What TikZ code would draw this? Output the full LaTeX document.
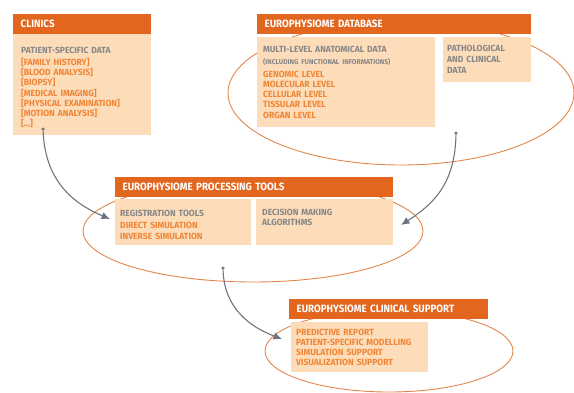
\documentclass[tikz,border=0pt]{standalone}
\usepackage{fontspec}
\setmainfont{Fira Sans}
\newfontfamily\headfont{Fira Sans}[FakeStretch=0.92]
\newfontfamily\itemfont{Fira Sans}[FakeStretch=0.96]
\usetikzlibrary{arrows.meta}
\usetikzlibrary{positioning}

\definecolor{headorange}{HTML}{E2661E}
\definecolor{panelpeach}{HTML}{FDDDB9}
\definecolor{itemorange}{HTML}{F08536}
\definecolor{itemgrey}{HTML}{878787}
\definecolor{ringorange}{HTML}{E3864C}
\definecolor{flowgrey}{HTML}{6F7580}

\newcommand{\gry}{\color{itemgrey}}
\newcommand{\smallgry}{\color{itemgrey}\fontsize{7}{8}\selectfont}

\tikzset{
  header/.style={anchor=north west, fill=headorange, text=white,
    font=\headfont\bfseries\fontsize{10.6}{12}\selectfont,
    minimum height=20, inner xsep=7.5, inner ysep=0, text width=#1, align=left},
  panel/.style={anchor=north west, fill=panelpeach, inner sep=0},
  items/.style={anchor=base west, inner sep=0, align=left, text width=#1,
    font=\itemfont\bfseries\fontsize{8.9}{10.3}\selectfont, text=itemorange},
  ring/.style={draw=ringorange, line width=0.9},
  flow/.style={draw=flowgrey, line width=1.1, -{Latex[length=8.5,width=7.5]}},
  tail/.style={circle, fill=flowgrey, inner sep=0, minimum size=3.5}
}

\begin{document}
\begin{tikzpicture}[x=1pt,y=1pt]
  \useasboundingbox (0,0) rectangle (574,-392);
  % rings behind the panels
  \draw[ring] (401,-93) ellipse (173 and 72);
  \draw[ring] (253,-231) ellipse (170 and 51);
  \draw[ring] (389,-351) ellipse (124 and 41);

  % clinics
  \node[header=123] (clinics) at (13,-14) {CLINICS};
  \node[panel, minimum width=138, minimum height=101] (clinicsbox) at (13,-34) {};
  \node[items=126] (patientdata) at ([xshift=8,yshift=-19]clinicsbox.north west)
    {{\gry PATIENT-SPECIFIC DATA}\\[1.8pt]
     {[FAMILY HISTORY]}\\ {[BLOOD ANALYSIS]}\\ {[BIOPSY]}\\
     {[MEDICAL IMAGING]}\\ {[PHYSICAL EXAMINATION]}\\
     {[MOTION ANALYSIS]}\\ {[...]}};

  % database
  \node[header=259] (database) at (257,-14) {EUROPHYSIOME DATABASE};
  \node[panel, minimum width=178, minimum height=90] (levelsbox) at (257,-37) {};
  \node[panel, minimum width=88, minimum height=45] (clinicalbox) at (443,-37) {};
  \node[items=170] (levels) at ([xshift=6,yshift=-15]levelsbox.north west)
    {{\gry MULTI-LEVEL ANATOMICAL DATA}\\[2.2pt]
     {\smallgry (INCLUDING FUNCTIONAL INFORMATIONS)}\\[2.2pt]
     GENOMIC LEVEL\\ MOLECULAR LEVEL\\ CELLULAR LEVEL\\
     TISSULAR LEVEL\\ ORGAN LEVEL};
  \node[items=82] (clinical) at ([xshift=4,yshift=-14]clinicalbox.north west)
    {{\gry PATHOLOGICAL}\\[0.7pt] {\gry AND CLINICAL}\\[0.7pt] {\gry DATA}};

  % processing tools
  \node[header=263] (tools) at (115,-177) {EUROPHYSIOME PROCESSING TOOLS};
  \node[panel, minimum width=136, minimum height=46] (registrationbox) at (115,-199) {};
  \node[panel, minimum width=137, minimum height=46] (decisionbox) at (256,-199) {};
  \node[items=128] (registration) at ([xshift=5,yshift=-17]registrationbox.north west)
    {{\gry REGISTRATION TOOLS}\\[2.5pt] DIRECT SIMULATION\\ INVERSE SIMULATION};
  \node[items=128] (decision) at ([xshift=6,yshift=-16]decisionbox.north west)
    {{\gry DECISION MAKING}\\ {\gry ALGORITHMS}};

  % clinical support
  \node[header=184] (support) at (289,-299) {EUROPHYSIOME CLINICAL SUPPORT};
  \node[panel, minimum width=137, minimum height=50] (outputsbox) at (291,-322) {};
  \node[items=130] (outputs) at ([xshift=5,yshift=-13]outputsbox.north west)
    {PREDICTIVE REPORT\\ PATIENT-SPECIFIC MODELLING\\
     SIMULATION SUPPORT\\ VISUALIZATION SUPPORT};

  % flows
  \node[tail] (fromclinics) at (43,-129) {};
  \node[tail] (fromdatabase) at (456,-133) {};
  \node[tail] (fromtools) at (223,-268) {};
  \coordinate (intotoolsleft) at (110,-219);
  \coordinate (intotoolsright) at (401,-225);
  \coordinate (intosupport) at (282,-339);
  \draw[flow] (fromclinics) .. controls (45,-180) and (72,-203) .. (intotoolsleft);
  \draw[flow] (fromdatabase) .. controls (455,-185) and (432,-205) .. (intotoolsright);
  \draw[flow] (fromtools) .. controls (224,-308) and (250,-327) .. (intosupport);
\end{tikzpicture}
\end{document}
